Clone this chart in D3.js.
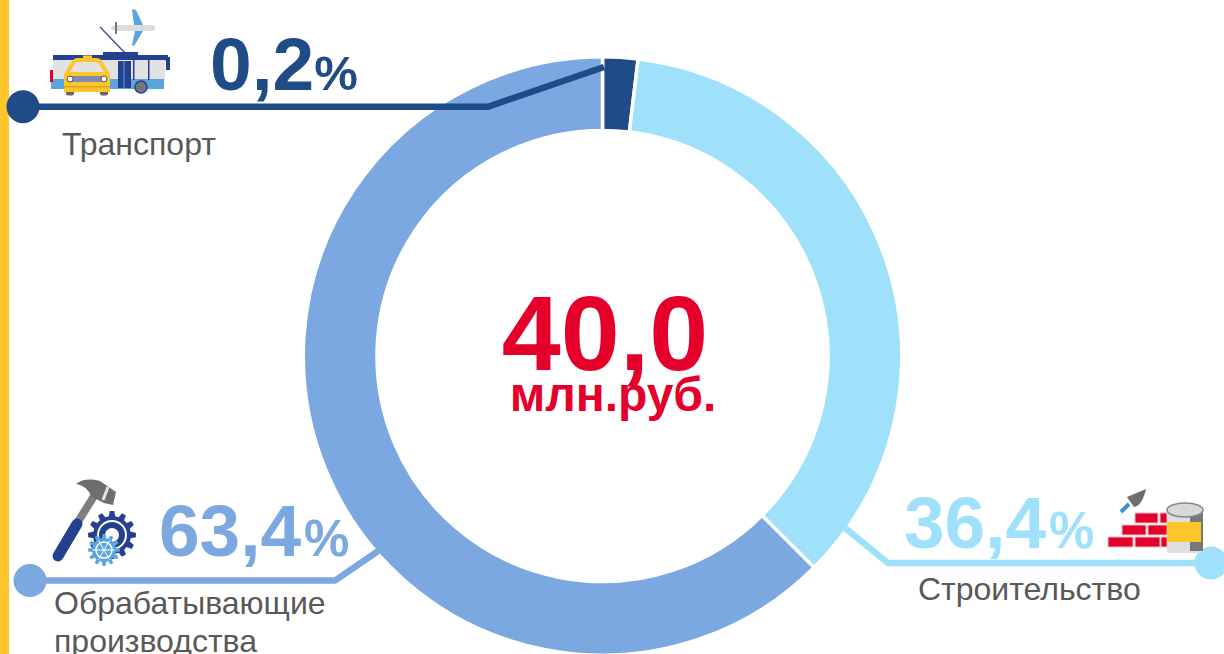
<!DOCTYPE html>
<html>
<head>
<meta charset="utf-8">
<style>
  html, body { margin: 0; padding: 0; background: #fff; }
  svg { display: block; }
  text { font-family: "Liberation Sans", Arial, sans-serif; }
</style>
</head>
<body>
<div id="chart"></div>
<script src="https://cdn.jsdelivr.net/npm/d3@7"></script>
<script>
// Подписи и значения с картинки
const categories = ["Транспорт", "Строительство", "Обрабатывающие производства"];
const percentLabels = ["0,2", "36,4", "63,4"];
// Доли секторов, как они нарисованы на кольце (транспорт показан шире своего значения)
const sliceShares = [1.9, 35.6, 62.5];
const sliceColors = ["#1f4b87", "#9fe0fa", "#7ba8e0"];
const totalLabel = "40,0";
const unitLabel = "млн.руб.";

const width = 1224, height = 654;
const cx = 602.5, cy = 356;

const svg = d3.select("#chart").append("svg")
  .attr("width", width)
  .attr("height", height)
  .attr("viewBox", [0, 0, width, height]);

svg.append("rect")
  .attr("width", 9).attr("height", height)
  .attr("fill", "#ffc62b");

// Кольцо
const pie = d3.pie().sort(null);
const arc = d3.arc().innerRadius(225.5).outerRadius(299.2);

svg.append("g")
  .attr("transform", `translate(${cx},${cy})`)
  .selectAll("path")
  .data(pie(sliceShares))
  .enter()
    .append("path")
    .attr("d", arc)
    .attr("fill", (d, i) => sliceColors[i])
    .attr("stroke", "#fff")
    .attr("stroke-width", 3.5);

// Выноски
const leaders = [
  { points: [[23, 106.7], [488, 106.7], [604, 67]], dot: [23, 106.7] },
  { points: [[1211, 563], [888, 563], [845, 528]], dot: [1211, 563] },
  { points: [[30, 580.6], [335, 580.6], [381, 549]], dot: [30, 580.6] }
];
const lineGenerator = d3.line();

leaders.forEach((l, i) => {
  svg.append("path")
    .attr("d", lineGenerator(l.points))
    .attr("fill", "none")
    .attr("stroke", sliceColors[i])
    .attr("stroke-width", 6.5);
  svg.append("circle")
    .attr("cx", l.dot[0]).attr("cy", l.dot[1]).attr("r", 16.5)
    .attr("fill", sliceColors[i]);
});

// Проценты: большая цифра и маленький знак
const percentPos = [[210, 90], [904, 548], [159, 556]];
const percentSize = [75, 73, 73];
const signSize = [49, 51, 51];
const signShift = [0, 3, 3];

percentLabels.forEach((p, i) => {
  const t = svg.append("text")
    .attr("x", percentPos[i][0]).attr("y", percentPos[i][1])
    .attr("fill", sliceColors[i])
    .attr("font-weight", "bold")
    .attr("font-size", percentSize[i])
    .text(p);
  t.append("tspan")
    .attr("font-size", signSize[i])
    .attr("dx", signShift[i])
    .text("%");
});

// Подписи категорий
const labelGrey = "#595959";
function label(x, y, s) {
  svg.append("text")
    .attr("x", x).attr("y", y)
    .attr("fill", labelGrey)
    .attr("font-size", 32)
    .text(s);
}
label(62, 155, categories[0]);
label(918, 600, categories[1]);
const words = categories[2].split(" ");
label(54, 614, words[0]);
label(54, 652, words[1]);

// Центр
svg.append("text")
  .attr("x", 605).attr("y", 370)
  .attr("text-anchor", "middle")
  .attr("fill", "#e4002b")
  .attr("font-weight", "bold")
  .attr("font-size", 106)
  .text(totalLabel);

svg.append("text")
  .attr("x", 613).attr("y", 411)
  .attr("text-anchor", "middle")
  .attr("fill", "#e4002b")
  .attr("font-weight", "bold")
  .attr("font-size", 48)
  .text(unitLabel);

// Значки
function rect(g, x, y, w, h, fill, rx) {
  return g.append("rect").attr("x", x).attr("y", y).attr("width", w).attr("height", h)
    .attr("fill", fill).attr("rx", rx || 0);
}
function poly(g, d, fill) {
  g.append("path").attr("d", d).attr("fill", fill);
}

// самолёт, троллейбус, такси
const tr = svg.append("g");
poly(tr, "M132 9 L136 10 L143 25 L134 25Z M135 31 L143 31 L134 46 L132 45Z", "#5aa5e0");
poly(tr, "M111 28 Q111 25 118 25 L153 25 Q158 28 153 31 L118 31 Q112 31 111 28Z", "#dcdcdc");
poly(tr, "M115 22 L117 22 L117 34 L115 34Z", "#777");
tr.append("line").attr("x1", 100).attr("y1", 27).attr("x2", 125).attr("y2", 53)
  .attr("stroke", "#3b5a9a").attr("stroke-width", 1.5);
rect(tr, 53, 55, 115, 5.5, "#24408e");
rect(tr, 103, 52, 35, 5, "#24408e");
rect(tr, 53, 60, 112, 20, "#e2e2e2");
rect(tr, 51, 79, 113, 10, "#5aa5e0");
rect(tr, 118, 61, 13, 27, "#24408e");
rect(tr, 123.5, 61, 1, 27, "#5aa5e0");
rect(tr, 133, 60, 1.5, 20, "#24408e");
rect(tr, 148, 60, 1.5, 20, "#24408e");
rect(tr, 50, 70, 3, 12, "#e4002b");
rect(tr, 166, 57, 4, 13, "#24408e");
tr.append("circle").attr("cx", 141).attr("cy", 87).attr("r", 6).attr("fill", "#777").attr("stroke", "#24408e").attr("stroke-width", 1.5);
rect(tr, 66, 88, 8, 7.5, "#666", 2);
rect(tr, 100, 88, 8, 7.5, "#666", 2);
poly(tr, "M64 74 L72 61 Q74 58 78 58 L96 58 Q100 58 102 61 L110 74 L110 92 L64 92Z", "#ffc62b");
poly(tr, "M70 72 L76 62 L98 62 L104 72Z", "#e2e2e2");
rect(tr, 83, 55.5, 9, 3.5, "#ffc62b");
rect(tr, 72, 76, 30, 6, "#7f8db0");
tr.append("circle").attr("cx", 70).attr("cy", 79).attr("r", 3).attr("fill", "#fff").attr("stroke", "#555");
tr.append("circle").attr("cx", 104).attr("cy", 79).attr("r", 3).attr("fill", "#fff").attr("stroke", "#555");
rect(tr, 64, 86, 46, 1.5, "#d9a520");

// молоток и шестерни
const ma = svg.append("g");
ma.append("line").attr("x1", 94).attr("y1", 496).attr("x2", 76).attr("y2", 525)
  .attr("stroke", "#7f7f7f").attr("stroke-width", 8);
ma.append("line").attr("x1", 77).attr("y1", 524).attr("x2", 58).attr("y2", 556)
  .attr("stroke", "#24408e").attr("stroke-width", 11).attr("stroke-linecap", "round");
poly(ma, "M76 484 Q85 477 100 481 L116 492 L113 505 L104 503 L92 497 Q86 485 76 484Z", "#6e6e6e");
ma.append("line").attr("x1", 108).attr("y1", 487).attr("x2", 103).attr("y2", 500)
  .attr("stroke", "#e6e6e6").attr("stroke-width", 3);

// шестерня: зубцы обходим по кругу через lineRadial
function gear(g, x, y, outer, inner, teeth, fill) {
  const pts = [];
  const step = 2 * Math.PI / teeth;
  d3.range(teeth).forEach(k => {
    const a = k * step;
    pts.push([a - step * 0.32, inner], [a - step * 0.18, outer], [a + step * 0.18, outer], [a + step * 0.32, inner]);
  });
  g.append("path")
    .attr("transform", `translate(${x},${y})`)
    .attr("d", d3.lineRadial()(pts) + "Z")
    .attr("fill", fill);
}
gear(ma, 112, 535, 24, 19, 12, "#24408e");
ma.append("circle").attr("cx", 112).attr("cy", 535).attr("r", 14).attr("fill", "none").attr("stroke", "#fff").attr("stroke-width", 2);
ma.append("circle").attr("cx", 112).attr("cy", 535).attr("r", 7).attr("fill", "#fff");
gear(ma, 104, 550, 16, 12, 12, "#5aa5e0");
ma.append("circle").attr("cx", 104).attr("cy", 550).attr("r", 8).attr("fill", "none").attr("stroke", "#fff").attr("stroke-width", 1.5);
d3.range(6).forEach(k => {
  const a = k * Math.PI / 3;
  ma.append("line")
    .attr("x1", 104).attr("y1", 550)
    .attr("x2", 104 + 11 * Math.cos(a)).attr("y2", 550 + 11 * Math.sin(a))
    .attr("stroke", "#fff").attr("stroke-width", 1);
});

// кирпичи, кельма, банка
const br = svg.append("g");
const brickColor = "#e4002b";
[[1108, 537, 25], [1135, 537, 25], [1161, 537, 6],
 [1122, 525, 24], [1148, 525, 19],
 [1135, 513, 23], [1160, 513, 7]].forEach(b => {
  rect(br, b[0], b[1], b[2], 10, brickColor).attr("stroke", "#e6c8c8").attr("stroke-width", 1);
});
poly(br, "M1146 489 L1127 497 L1134 507 Q1142 506 1146 489Z", "#6e6e6e");
br.append("line").attr("x1", 1129).attr("y1", 504).attr("x2", 1121).attr("y2", 512)
  .attr("stroke", "#3f8fd6").attr("stroke-width", 4);
rect(br, 1167, 510, 36, 43, "#dedede", 3);
rect(br, 1190, 510, 13, 41, "#777");
rect(br, 1167, 522, 34, 20, "#ffc62b");
br.append("ellipse").attr("cx", 1185).attr("cy", 510).attr("rx", 18).attr("ry", 7)
  .attr("fill", "#d8d8d8").attr("stroke", "#888").attr("stroke-width", 1.5);
</script>
</body>
</html>
